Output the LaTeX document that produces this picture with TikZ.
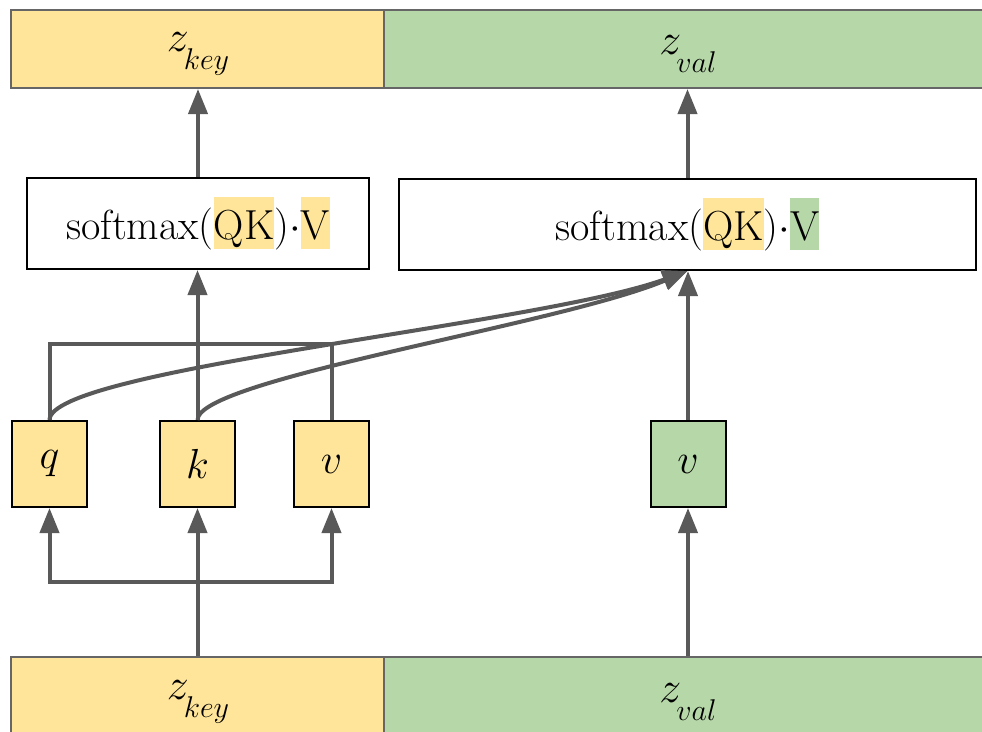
\RequirePackage{fix-cm}
\documentclass[tikz,border=0pt]{standalone}
\usetikzlibrary{arrows.meta}
\definecolor{keyc}{HTML}{FFE599}
\definecolor{valc}{HTML}{B6D7A8}
\definecolor{linec}{HTML}{595959}
\definecolor{barline}{HTML}{666666}

% highlighted part of a formula
\newcommand{\hlbox}[2]{{\setlength{\fboxsep}{0pt}\colorbox{#1}{\rule[-10pt]{0pt}{52pt}#2}}}
% z with a large lowered subscript
\newcommand{\zsub}[1]{{\fontsize{44}{44}\selectfont$z$}\kern-5pt\raisebox{-18pt}{\fontsize{30}{30}\selectfont$#1$}}

\begin{document}
\begin{tikzpicture}[x=1pt,y=-1pt,
  arr/.style={draw=linec, line width=4pt, -{Triangle[length=25pt,width=19pt]}},
  wire/.style={draw=linec, line width=4pt},
  bar/.style={draw=barline, line width=2pt, inner sep=0pt, minimum height=78pt},
  lab/.style={inner sep=0pt},
  cell/.style={draw=black, line width=2pt, inner sep=0pt, minimum width=75pt,
    minimum height=86pt, font=\fontsize{42}{42}\selectfont},
  smbox/.style={draw=black, line width=2pt, fill=white, minimum height=91pt,
    inner sep=0pt, font=\fontsize{42}{46}\selectfont},
]
\clip (0,0) rectangle (982,731);

% output bars
\node[bar, fill=keyc, minimum width=373pt] (topkey) at (197.5,49) {};
\node[bar, fill=valc, minimum width=606pt] (topval) at (687,49) {};
\node[lab] (topkeylab) at (198,54) {\zsub{key}};
\node[lab] (topvallab) at (688,54) {\zsub{val}};

% input bars
\node[bar, fill=keyc, minimum width=373pt, minimum height=88pt] (botkey) at (197.5,701) {};
\node[bar, fill=valc, minimum width=606pt, minimum height=88pt] (botval) at (687,701) {};
\node[lab] (botkeylab) at (198,702) {\zsub{key}};
\node[lab] (botvallab) at (688,702) {\zsub{val}};

% attention blocks
\node[smbox, minimum width=342pt] (smL) at (198,223.5)
  {softmax(\hlbox{keyc}{QK})$\cdot$\hlbox{keyc}{V}};
\node[smbox, minimum width=577pt] (smR) at (687.5,224.5)
  {softmax(\hlbox{keyc}{QK})$\cdot$\hlbox{valc}{V}};

% projections
\node[cell, fill=keyc] (q) at (49.5,464) {$q$};
\node[cell, fill=keyc] (k) at (197.5,464) {$k$};
\node[cell, fill=keyc] (v) at (331.5,464) {$v$};
\node[cell, fill=valc] (gv) at (688,464) {$v$};

\coordinate (brk) at (0,344);
\coordinate (spl) at (0,582);

% z_key feeds q, k, v
\draw[arr] (k.south |- botkey.north) -- (k.south);
\draw[arr] (k.south |- spl) -| (q.south);
\draw[arr] (k.south |- spl) -| (v.south);
% z_val feeds v
\draw[arr] (gv.south |- botval.north) -- (gv.south);

% left attention
\draw[wire] (q.north) -- (q.north |- brk) -| (v.north);
\draw[arr] (k.north) -- (k.north |- smL.south);
\draw[arr] (smL.north) -- (smL.north |- topkey.south);

% right attention
\draw[arr] (gv.north) -- (gv.north |- smR.south);
\draw[arr] (q.north) .. controls +(0,-51) and +(-148,54) .. (smR.south);
\draw[arr] (k.north) .. controls +(0,-41) and +(-128,54) .. (smR.south);
\draw[arr] (smR.north) -- (smR.north |- topval.south);
\end{tikzpicture}
\end{document}
